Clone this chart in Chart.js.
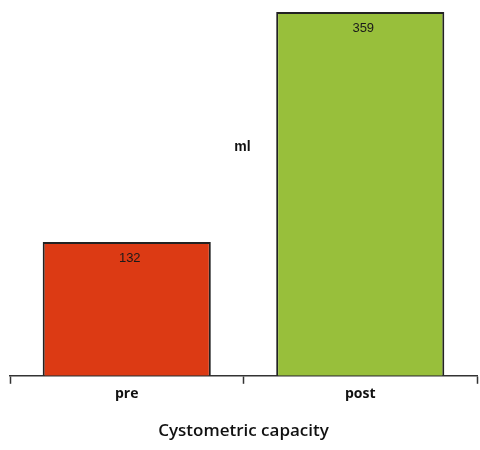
<!DOCTYPE html>
<html>
<head>
<meta charset="utf-8">
<script src="https://cdn.jsdelivr.net/npm/chart.js@4"></script>
<style>
  html, body { margin: 0; padding: 0; background: #ffffff; }
  #wrap { width: 480px; height: 450px; position: relative; }
</style>
</head>
<body>
<div id="wrap"><canvas id="chart"></canvas></div>
<script>
// Bladder capacity before and after treatment (ml)
const categories = ['pre', 'post'];
const capacity = [132, 359];
const barColors = ['#DC3A14', '#98BF3B'];
const unitLabel = 'ml';
const axisTitle = 'Cystometric capacity';

// Writes each bar's value just inside its top edge
const valueLabels = {
  id: 'valueLabels',
  afterDatasetsDraw(chart) {
    const ctx = chart.ctx;
    const meta = chart.getDatasetMeta(0);
    ctx.save();
    ctx.font = '13px "Liberation Sans", Arial, sans-serif';
    ctx.fillStyle = '#1a1a1a';
    ctx.textAlign = 'center';
    ctx.textBaseline = 'middle';
    meta.data.forEach((bar, i) => {
      ctx.fillText(String(chart.data.datasets[0].data[i]), bar.x + 3, bar.y + 16);
    });
    ctx.restore();
  }
};

// Unit caption floating between the two bars
const unitCaption = {
  id: 'unitCaption',
  afterDatasetsDraw(chart) {
    const ctx = chart.ctx;
    const area = chart.chartArea;
    ctx.save();
    ctx.font = 'bold 14px "Liberation Sans", Arial, sans-serif';
    ctx.fillStyle = '#111111';
    ctx.textAlign = 'center';
    ctx.textBaseline = 'middle';
    ctx.fillText(unitLabel, (area.left + area.right) / 2 - 1, area.top + 136);
    ctx.restore();
  }
};

new Chart(document.getElementById('chart'), {
  type: 'bar',
  data: {
    labels: categories,
    datasets: [{
      data: capacity,
      backgroundColor: barColors,
      borderColor: '#222222',
      borderWidth: 2,
      categoryPercentage: 0.72,
      barPercentage: 1.0
    }]
  },
  options: {
    responsive: true,
    maintainAspectRatio: false,
    animation: false,
    layout: { padding: { left: 10, right: 3, top: 11, bottom: 9 } },
    plugins: {
      legend: { display: false },
      tooltip: { enabled: false }
    },
    scales: {
      x: {
        grid: {
          display: true,
          offset: true,
          drawOnChartArea: false,
          drawTicks: true,
          tickLength: 8,
          tickWidth: 1.5,
          tickColor: '#333333'
        },
        border: { display: true, color: '#333333', width: 1.5 },
        ticks: {
          color: '#111111',
          padding: 2,
          font: { family: '"Open Sans", sans-serif', size: 14, weight: 'bold' }
        },
        title: {
          display: true,
          text: axisTitle,
          color: '#111111',
          padding: { top: 16, bottom: 0 },
          font: { family: '"Open Sans", sans-serif', size: 17, weight: '600' }
        }
      },
      y: {
        display: false,
        min: 0,
        max: 360
      }
    }
  },
  plugins: [valueLabels, unitCaption]
});
</script>
</body>
</html>
